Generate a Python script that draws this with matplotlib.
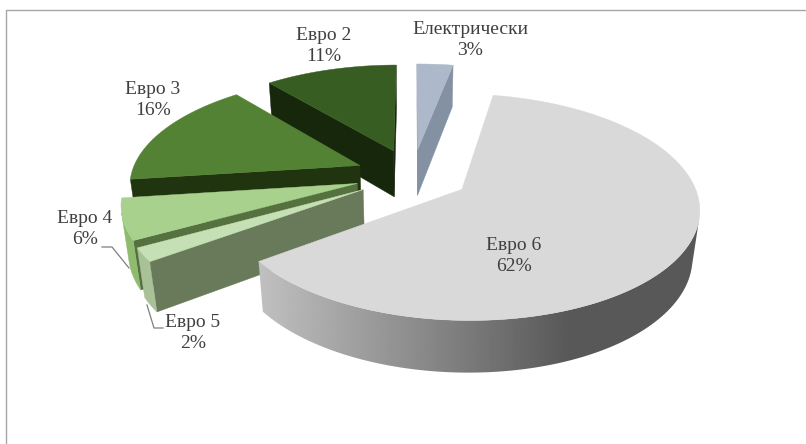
import numpy as np
from matplotlib import pyplot as plt
from matplotlib.patches import Polygon

plt.rcParams["font.family"] = ["Liberation Serif", "DejaVu Serif"]

# clockwise from the start angle
names = ["Евро 6", "Евро 5", "Евро 4", "Евро 3", "Евро 2", "Електрически"]
shares = [62, 2, 6, 16, 11, 3]

START_ANGLE = 10.5
EXPLODE = 0.25

topColors = ["#d9d9d9", "#c5e0b4", "#a9d18e", "#548235", "#385d22", "#adb9ca"]
faceColors = ["#8a8a8a", "#697a5a", "#55713f", "#20340f", "#17270c", "#8391a3"]
rimColors = [None, "#a9c196", "#8fbb6e", "#20340f", "#17270c", "#8391a3"]

labelPos = [(514, 256), (193, 333), (85, 229), (153, 100), (324, 46), (470, 40)]
leaders = {
    1: [(147, 305), (154, 328), (163, 328)],
    2: [(102, 247), (112, 247), (129, 268)],
}

# far slices get painted first
drawOrder = [5, 4, 3, 2, 1, 0]


def project(X, Y, Z=0.0):
    w = 1 - 0.154 * Y + 0.025 * Z
    return 412.5 + 229 * X / w - 1 * Y, 175 + (106 * Y + 48 * Z) / w


def area(quad):
    xs = np.array([p[0] for p in quad])
    ys = np.array([p[1] for p in quad])
    return np.sum(xs * np.roll(ys, -1) - np.roll(xs, -1) * ys)


def sideQuad(p1, p2):
    return [project(*p1), project(*p2), project(*p2, 1.0), project(*p1, 1.0)]


def drawSlice(ax, i, a0, a1):
    mid = np.radians((a0 + a1) / 2)
    ox, oy = EXPLODE * np.sin(mid), -EXPLODE * np.cos(mid)
    angles = np.radians(np.linspace(a0, a1, max(int(a1 - a0) * 2, 6) + 1))
    rim = [(ox + np.sin(a), oy - np.cos(a)) for a in angles]

    # flat faces along the two cuts
    q0 = sideQuad((ox, oy), rim[0])
    q1 = sideQuad((ox, oy), rim[-1])
    if area(q0) < 0:
        ax.add_patch(Polygon(q0, closed=True, fc=faceColors[i], ec=faceColors[i], lw=0.3))
    if area(q1) > 0:
        ax.add_patch(Polygon(q1, closed=True, fc=faceColors[i], ec=faceColors[i], lw=0.3))

    # outer wall, only the part turned to the viewer
    seen = [p for p, q in zip(rim, rim[1:]) if area(sideQuad(p, q)) < 0]
    if seen:
        seen.append(rim[min(rim.index(seen[-1]) + 1, len(rim) - 1)])
        wall = [project(*p) for p in seen] + [project(*p, 1.0) for p in seen[::-1]]
        if rimColors[i]:
            ax.add_patch(Polygon(wall, closed=True, fc=rimColors[i], ec=rimColors[i], lw=0.3))
        else:
            # grey wall fades from light on the left to dark on the right
            xs = np.arange(0, 807)
            ramp = np.interp(xs, [260, 570], [192, 88]).reshape(1, -1)
            patch = Polygon(wall, closed=True, fc="none", ec="none", transform=ax.transData)
            ax.add_patch(patch)
            ax.imshow(ramp, cmap="gray", vmin=0, vmax=255, extent=(0, 806, 444, 0),
                      aspect="auto", clip_path=patch, zorder=1)

    # top of the slice
    top = [project(ox, oy)] + [project(*p) for p in rim]
    ax.add_patch(Polygon(top, closed=True, fc=topColors[i], ec=topColors[i], lw=0.3))


fig = plt.figure(figsize=(8.06, 4.44), dpi=100)
ax = fig.add_axes([0, 0, 1, 1])

# chart border
ax.plot([6, 6, 806], [444, 10, 10], color="#a6a6a6", lw=1)

edges = START_ANGLE + np.cumsum([0] + shares) * 3.6
for i in drawOrder:
    drawSlice(ax, i, edges[i], edges[i + 1])

for i, pts in leaders.items():
    ax.plot([p[0] for p in pts], [p[1] for p in pts], color="#7f7f7f", lw=0.9)

for i in range(len(names)):
    ax.text(labelPos[i][0], labelPos[i][1], names[i] + "\n" + str(shares[i]) + "%",
            ha="center", va="center", fontsize=14, color="#404040", linespacing=1.27)

ax.set_xlim(0, 806)
ax.set_ylim(444, 0)
ax.axis("off")

fig.savefig("out.png", dpi=100)
